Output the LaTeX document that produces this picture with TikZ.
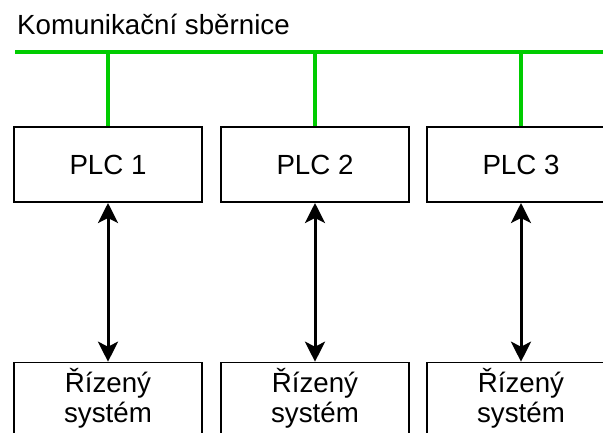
\documentclass[tikz,border=0pt]{standalone}
\usepackage{fontspec}
\setmainfont{Liberation Sans}
\usetikzlibrary{arrows.meta}
\definecolor{busgreen}{RGB}{0,204,0}
\tikzset{
  txt/.style={font=\fontsize{27.7}{30}\selectfont, inner sep=0pt},
  plcbox/.style={draw=black, line width=1.4pt, minimum width=188pt, minimum height=75pt, inner sep=0pt, font=\fontsize{27.7}{30}\selectfont},
  sysbox/.style={draw=black, line width=1.4pt, minimum width=188pt, minimum height=100pt, inner sep=0pt, anchor=north},
  systxt/.style={txt, text width=188pt, align=center, anchor=base},
  bus/.style={draw=busgreen, line width=3.2pt},
  arr/.style={draw=black, line width=3pt, {Stealth[length=20pt,width=20pt,inset=5pt]}-{Stealth[length=20pt,width=20pt,inset=5pt]}, shorten <=0.3pt, shorten >=0.3pt}
}
\begin{document}
\begin{tikzpicture}[x=1pt,y=-1pt]
\useasboundingbox (0,0) rectangle (603,432);
\clip (0,0) rectangle (603,432);
\fill[white] (0,0) rectangle (603,432);
\node[txt, anchor=base west] (title) at (17,34) {Komunikační sběrnice};
\coordinate (b0) at (15,52);
\coordinate (b1) at (620,52);
\node[plcbox] (p1) at (108,164.5) {PLC 1};
\node[plcbox] (p2) at (315,164.5) {PLC 2};
\node[plcbox] (p3) at (521,164.5) {PLC 3};
\node[sysbox] (s1) at (108,362) {};
\node[sysbox] (s2) at (315,362) {};
\node[sysbox] (s3) at (521,362) {};
\node[systxt] (t1) at (108,392) {Řízený\\systém};
\node[systxt] (t2) at (315,392) {Řízený\\systém};
\node[systxt] (t3) at (521,392) {Řízený\\systém};
\draw[bus] (b0) -- (b1);
\draw[bus] (p1.north |- b0) -- (p1.north);
\draw[bus] (p2.north |- b0) -- (p2.north);
\draw[bus] (p3.north |- b0) -- (p3.north);
\draw[arr] (p1.south) -- (s1.north);
\draw[arr] (p2.south) -- (s2.north);
\draw[arr] (p3.south) -- (s3.north);
\end{tikzpicture}
\end{document}
